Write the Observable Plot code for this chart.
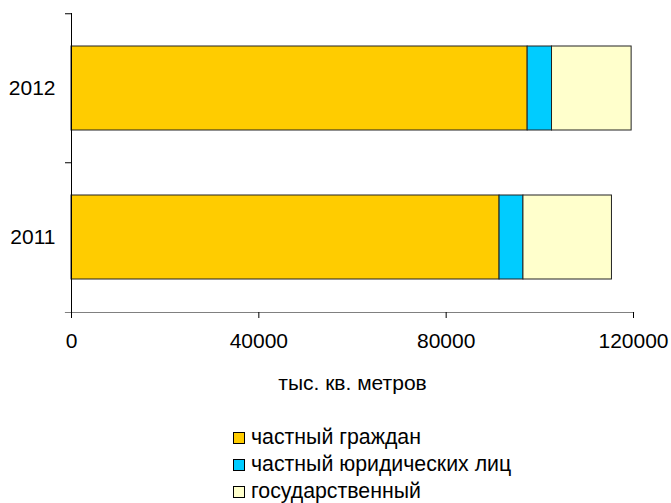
<!DOCTYPE html>
<html><head><meta charset="utf-8">
<script src="https://cdn.jsdelivr.net/npm/d3@7"></script>
<script src="https://cdn.jsdelivr.net/npm/@observablehq/plot@0.6"></script>
<style>
html,body{margin:0;padding:0;background:#fff;}
body{font-family:"Liberation Sans",Arial,sans-serif;position:relative;width:671px;height:503px;overflow:hidden;}
#chart{position:absolute;left:0;top:0;}
#legend{position:absolute;left:233px;top:424px;font-size:21.3px;color:#000;line-height:27px;white-space:nowrap;}
.row{display:flex;align-items:center;height:27px;}
.sw{width:10px;height:10px;border:1px solid #000;margin-right:6px;box-sizing:content-box;flex:none;}
</style></head><body>
<div id="chart"></div>
<div id="legend"></div>
<script>
const years = ["2011", "2012"];
const series = ["частный граждан", "частный юридических лиц", "государственный"];
const colors = ["#FFCC00", "#00CCFF", "#FFFFCC"];
const privateCitizens = [91400, 97400];
const privateLegal = [5100, 5200];
const stateOwned = [18900, 17000];
const xTicks = [0, 40000, 80000, 120000];
const xLabel = "тыс. кв. метров";

const seriesValues = [privateCitizens, privateLegal, stateOwned];
const data = years.flatMap((year, i) =>
  series.map((type, s) => ({year, type, value: seriesValues[s][i]}))
);

const H = 425, MT = 13, MB = 113;
const step = (H - MT - MB) / years.length;

const chart = Plot.plot({
  width: 671,
  height: H,
  marginLeft: 71,
  marginRight: 38,
  marginTop: MT,
  marginBottom: MB,
  style: {fontFamily: "'Liberation Sans', Arial, sans-serif", fontSize: "21px", color: "#000", background: "#fff"},
  x: {domain: [0, 120000]},
  y: {domain: years.slice().reverse(), paddingInner: 0.438, paddingOuter: 0.219},
  color: {domain: series, range: colors},
  marks: [
    Plot.barX(data, Plot.stackX({y: "year", x: "value", fill: "type", order: series, stroke: "#222", strokeWidth: 1})),
    Plot.frame({anchor: "bottom", stroke: "#808080", strokeWidth: 1.2, insetLeft: -6}),
    Plot.ruleX([0], {stroke: "#000"}),
    Plot.ruleY(years, {y: d => d, x1: 0, x2: 0, insetLeft: -6, dy: -step / 2, stroke: "#000"}),
    Plot.axisX({ticks: xTicks, tickSize: 6, tickPadding: 15, tickFormat: d => String(d), stroke: "#000",
      label: xLabel, labelAnchor: "center", labelArrow: "none", labelOffset: 77}),
    Plot.axisY({tickSize: 0, tickPadding: 16, label: null})
  ]
});
document.getElementById("chart").appendChild(chart);

const legend = document.getElementById("legend");
series.forEach((name, i) => {
  const row = document.createElement("div");
  row.className = "row";
  const sw = document.createElement("span");
  sw.className = "sw";
  sw.style.background = colors[i];
  const t = document.createElement("span");
  t.textContent = name;
  row.appendChild(sw);
  row.appendChild(t);
  legend.appendChild(row);
});
</script>
</body></html>
